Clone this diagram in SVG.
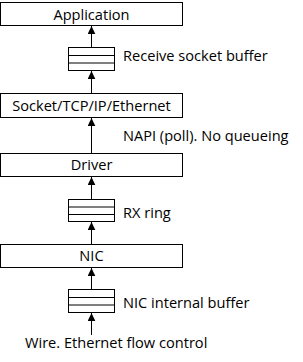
<svg xmlns="http://www.w3.org/2000/svg" width="303" height="362" viewBox="0 0 303 362">
<style>
.box{fill:#fff;stroke:#000;stroke-width:1}
.t{font-family:"Open Sans","Noto Sans",sans-serif;font-size:14.6px;fill:#000}
.c{text-anchor:middle}
.ln{stroke:#000;stroke-width:1;fill:none}
</style>
<defs>
<marker id="ah" viewBox="0 0 8 8" refX="8" refY="4" markerWidth="8" markerHeight="8" markerUnits="userSpaceOnUse" orient="auto">
<path d="M0,0.2 L8,4 L0,7.8 Z" fill="#000"/>
</marker>
</defs>
<rect width="303" height="362" fill="#fff"/>
<g id="connectors">
<line class="ln" x1="91.5" y1="47.5" x2="91.5" y2="26" marker-end="url(#ah)"/>
<line class="ln" x1="91.5" y1="93.5" x2="91.5" y2="71" marker-end="url(#ah)"/>
<line class="ln" x1="91.5" y1="153.5" x2="91.5" y2="118" marker-end="url(#ah)"/>
<line class="ln" x1="91.5" y1="199.5" x2="91.5" y2="177" marker-end="url(#ah)"/>
<line class="ln" x1="91.5" y1="244.5" x2="91.5" y2="222" marker-end="url(#ah)"/>
<line class="ln" x1="91.5" y1="289.5" x2="91.5" y2="268" marker-end="url(#ah)"/>
<line class="ln" x1="91.5" y1="335" x2="91.5" y2="313" marker-end="url(#ah)"/>
</g>
<g id="application">
<rect class="box" x="0.5" y="2.5" width="182" height="23"/>
<text class="t c" x="91.5" y="19.5">Application</text>
</g>
<g id="receive-socket-buffer">
<rect class="box" x="68.5" y="47.5" width="46" height="23"/>
<line class="ln" x1="68.5" y1="55.5" x2="114.5" y2="55.5"/>
<line class="ln" x1="68.5" y1="63" x2="114.5" y2="63"/>
<text class="t" x="123" y="61">Receive socket buffer</text>
</g>
<g id="socket">
<rect class="box" x="0.5" y="93.5" width="182" height="24"/>
<text class="t c" x="91.5" y="111">Socket/TCP/IP/Ethernet</text>
</g>
<text class="t" x="123" y="140.5">NAPI (poll). No queueing</text>
<g id="driver">
<rect class="box" x="0.5" y="153.5" width="182" height="23"/>
<text class="t c" x="91.5" y="170">Driver</text>
</g>
<g id="rx-ring">
<rect class="box" x="68.5" y="199.5" width="46" height="22"/>
<line class="ln" x1="68.5" y1="207" x2="114.5" y2="207"/>
<line class="ln" x1="68.5" y1="214.5" x2="114.5" y2="214.5"/>
<text class="t" x="123" y="217.5">RX ring</text>
</g>
<g id="nic">
<rect class="box" x="0.5" y="244.5" width="182" height="23"/>
<text class="t c" x="91.5" y="261">NIC</text>
</g>
<g id="nic-internal-buffer">
<rect class="box" x="68.5" y="289.5" width="46" height="23"/>
<line class="ln" x1="68.5" y1="297.5" x2="114.5" y2="297.5"/>
<line class="ln" x1="68.5" y1="305" x2="114.5" y2="305"/>
<text class="t" x="123" y="308">NIC internal buffer</text>
</g>
<text class="t" x="25" y="348">Wire. Ethernet flow control</text>
</svg>
